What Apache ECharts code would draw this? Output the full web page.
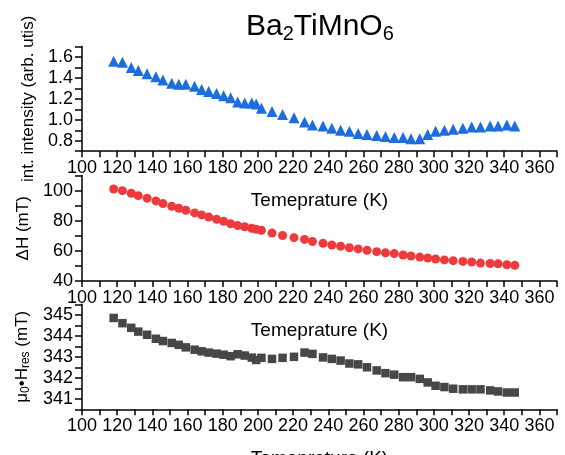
<!DOCTYPE html>
<html>
<head>
<meta charset="utf-8">
<script src="https://cdn.jsdelivr.net/npm/echarts@6/dist/echarts.min.js"></script>
<style>
html,body{margin:0;padding:0;background:#fff;}
#chart{width:565px;height:455px;}
</style>
</head>
<body>
<div id="chart"></div>
<script>
// Temperatures (K), shared by the three panels
const temps = [118, 123, 128, 132, 137, 142, 146, 151, 155, 159, 164, 168, 172, 176.5, 180.5, 184.5, 188.5, 192.5, 196.5, 199,
  202, 208, 214, 220.5, 226.5, 231, 237, 242, 247, 252, 257, 262, 267.5, 272.5, 277.5, 282.5, 287, 292, 296.5, 301,
  306, 311, 316.5, 321.5, 326.5, 332, 336.5, 341.5, 346];
// int. intensity (arb. units)
const intensity = [1.56, 1.55, 1.50, 1.47, 1.44, 1.41, 1.38, 1.35, 1.34, 1.34, 1.32, 1.29, 1.27, 1.25, 1.23, 1.21, 1.17, 1.16, 1.16, 1.15,
  1.11, 1.08, 1.05, 1.02, 0.98, 0.95, 0.94, 0.92, 0.90, 0.89, 0.87, 0.86, 0.85, 0.84, 0.83, 0.83, 0.82, 0.82, 0.86, 0.89,
  0.90, 0.91, 0.92, 0.93, 0.93, 0.94, 0.94, 0.95, 0.94];
// Delta H (mT)
const deltaH = [101.1, 100.0, 98.3, 96.7, 95.0, 93.2, 91.4, 89.6, 88.3, 87.0, 85.2, 83.9, 82.5, 81.0, 79.6, 78.0, 76.8, 76.0, 75.0, 74.3,
  73.7, 71.8, 70.2, 68.8, 67.6, 66.2, 65.0, 63.9, 63.1, 62.1, 61.3, 60.4, 59.5, 58.7, 58.2, 57.3, 56.6, 55.9, 55.3, 54.6,
  54.0, 53.5, 53.0, 52.6, 51.9, 51.6, 51.4, 50.8, 50.4];
// mu0*Hres (mT)
const hres = [344.85, 344.6, 344.38, 344.2, 344.05, 343.86, 343.75, 343.66, 343.57, 343.45, 343.34, 343.26, 343.2, 343.15, 343.1, 343.03, 343.12, 343.06, 342.96, 342.85,
  342.95, 342.9, 342.95, 343.0, 343.2, 343.14, 342.97, 342.9, 342.82, 342.68, 342.64, 342.5, 342.35, 342.22, 342.15, 342.03, 342.03, 341.95, 341.78, 341.62,
  341.56, 341.48, 341.45, 341.45, 341.45, 341.4, 341.35, 341.3, 341.3];

const xTitle = 'Temeprature (K)';
const FONT = '"Liberation Sans", Arial, sans-serif';

const zip = (xs, ys) => xs.map((x, i) => [x, ys[i]]);

const chart = echarts.init(document.getElementById('chart'), null, {renderer: 'canvas'});

const grids = [
  {left: 82, right: 8, top: 46.5, height: 104.7, outerBoundsMode: 'none', containLabel: false},
  {left: 82, right: 8, top: 175.6, height: 105.4, outerBoundsMode: 'none', containLabel: false},
  {left: 82, right: 8, top: 304.3, height: 105, outerBoundsMode: 'none', containLabel: false}
];

function xAxisCfg(i) {
  return {
    type: 'value', gridIndex: i, min: 100, max: 370, interval: 10,
    axisLine: {show: true, onZero: false, lineStyle: {color: '#000', width: 1.5}},
    axisTick: {show: true, inside: false, length: 6, lineStyle: {color: '#000', width: 1.5}},
    axisLabel: {margin: 8, fontFamily: FONT, fontSize: 18, color: '#000',
      formatter: v => (Math.round(v) % 20 === 0 && v <= 360) ? String(Math.round(v)) : ''},
    splitLine: {show: false},
    name: xTitle, nameLocation: 'middle', nameGap: 40,
    nameTextStyle: {fontFamily: FONT, fontSize: 19, color: '#000'}
  };
}

function yAxisCfg(i, min, max, interval, fmt, name, rich) {
  return {
    type: 'value', gridIndex: i, min: min, max: max, interval: interval,
    axisLine: {show: true, onZero: false, lineStyle: {color: '#000', width: 1.5}},
    axisTick: {show: true, inside: false, length: 7, lineStyle: {color: '#000', width: 1.5}},
    axisLabel: {margin: 9, fontFamily: FONT, fontSize: 18, color: '#000', formatter: fmt},
    splitLine: {show: false},
    name: name, nameLocation: 'middle', nameGap: 45,
    nameTextStyle: Object.assign({fontFamily: FONT, fontSize: 17, color: '#000'}, rich ? {rich: rich} : {})
  };
}

const option = {
  backgroundColor: '#fff',
  animation: false,
  title: {
    text: '{a|Ba}{s|2}{a|TiMnO}{s|6}',
    left: 246, top: 10, padding: 0,
    textStyle: {
      fontWeight: 'normal',
      rich: {
        a: {fontFamily: FONT, fontSize: 30, fontWeight: 'normal', color: '#000', lineHeight: 34},
        s: {fontFamily: FONT, fontSize: 20, fontWeight: 'normal', color: '#000', lineHeight: 14, verticalAlign: 'bottom'}
      }
    }
  },
  grid: grids,
  xAxis: [xAxisCfg(0), xAxisCfg(1), xAxisCfg(2)],
  yAxis: [
    yAxisCfg(0, 0.7, 1.7, 0.1, v => { const k = Math.round(v * 10); return (k % 2 === 0 && k >= 8 && k <= 16) ? (k / 10).toFixed(1) : ''; },
      'int. intensity (arb. utis)'),
    yAxisCfg(1, 40, 110, 10, v => (Math.round(v) % 20 === 0 && v <= 100) ? String(Math.round(v)) : '', 'ΔH (mT)'),
    yAxisCfg(2, 340.5, 345.5, 0.5, v => (Math.abs(v - Math.round(v)) < 1e-6 && v >= 341 && v <= 345) ? String(Math.round(v)) : '',
      '{a|μ}{s|0}{a|•H}{s|res}{a| (mT)}',
      {a: {fontFamily: FONT, fontSize: 17, color: '#000', lineHeight: 20},
       s: {fontFamily: FONT, fontSize: 12, color: '#000', lineHeight: 8, verticalAlign: 'bottom'}})
  ],
  series: [
    {type: 'scatter', xAxisIndex: 0, yAxisIndex: 0, symbol: 'triangle', symbolSize: 11,
      itemStyle: {color: '#1c6ddf', opacity: 1}, data: zip(temps, intensity)},
    {type: 'scatter', xAxisIndex: 1, yAxisIndex: 1, symbol: 'circle', symbolSize: 9,
      itemStyle: {color: '#ef3a3d', opacity: 1}, data: zip(temps, deltaH)},
    {type: 'scatter', xAxisIndex: 2, yAxisIndex: 2, symbol: 'rect', symbolSize: 8.5,
      itemStyle: {color: '#474747', opacity: 1}, data: zip(temps, hres)}
  ]
};
chart.setOption(option);
</script>
</body>
</html>
